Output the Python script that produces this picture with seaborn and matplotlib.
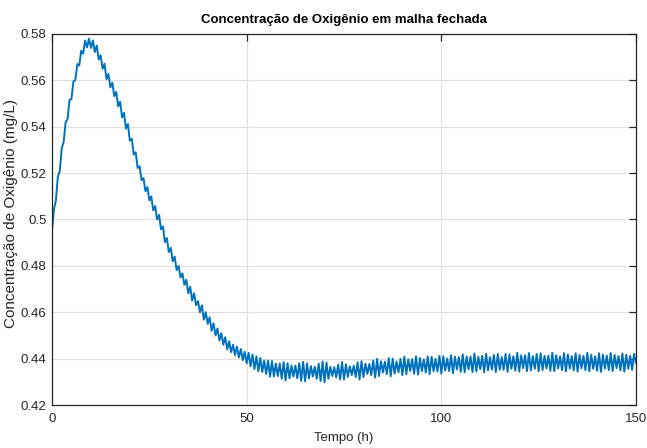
import numpy as np
import pandas as pd
import matplotlib
matplotlib.use("Agg")
import matplotlib.pyplot as plt
from matplotlib.ticker import FuncFormatter
import seaborn as sns

time_step_h = 0.5
oxygen_0_25 = [
    0.4950, 0.5045, 0.5082, 0.5185, 0.5210, 0.5308, 0.5335, 0.5420, 0.5433, 0.5516,
    0.5520, 0.5595, 0.5602, 0.5670, 0.5664, 0.5728, 0.5715, 0.5772, 0.5742, 0.5780,
    0.5740, 0.5772, 0.5722, 0.5750, 0.5690, 0.5708, 0.5650, 0.5672, 0.5605, 0.5628,
    0.5570, 0.5590, 0.5532, 0.5550, 0.5488, 0.5508, 0.5440, 0.5460, 0.5392, 0.5412,
    0.5340, 0.5348, 0.5280, 0.5290, 0.5222, 0.5230, 0.5170, 0.5178, 0.5122, 0.5140,
]
oxygen_25_50 = [
    0.5082, 0.5100, 0.5040, 0.5058, 0.5000, 0.5020, 0.4958, 0.4970, 0.4902, 0.4920,
    0.4860, 0.4878, 0.4820, 0.4840, 0.4782, 0.4800, 0.4750, 0.4768, 0.4718, 0.4740,
    0.4682, 0.4710, 0.4650, 0.4682, 0.4630, 0.4648, 0.4600, 0.4630, 0.4568, 0.4600,
    0.4550, 0.4578, 0.4520, 0.4552, 0.4500, 0.4530, 0.4478, 0.4510, 0.4460, 0.4492,
    0.4440, 0.4475, 0.4428, 0.4460, 0.4415, 0.4452, 0.4405, 0.4442, 0.4393, 0.4430,
]
oxygen_50_75 = [
    0.4380, 0.4425, 0.4367, 0.4418, 0.4355, 0.4410, 0.4345, 0.4403, 0.4342, 0.4392,
    0.4334, 0.4392, 0.4322, 0.4390, 0.4323, 0.4379, 0.4325, 0.4379, 0.4313, 0.4385,
    0.4306, 0.4380, 0.4315, 0.4370, 0.4323, 0.4370, 0.4315, 0.4380, 0.4304, 0.4386,
    0.4302, 0.4379, 0.4314, 0.4368, 0.4323, 0.4365, 0.4313, 0.4378, 0.4303, 0.4388,
    0.4298, 0.4383, 0.4313, 0.4365, 0.4325, 0.4363, 0.4319, 0.4374, 0.4310, 0.4385,
]
oxygen_75_100 = [
    0.4310, 0.4376, 0.4321, 0.4367, 0.4329, 0.4370, 0.4320, 0.4384, 0.4310, 0.4389,
    0.4320, 0.4378, 0.4334, 0.4377, 0.4328, 0.4392, 0.4318, 0.4399, 0.4325, 0.4389,
    0.4340, 0.4387, 0.4333, 0.4402, 0.4324, 0.4400, 0.4335, 0.4388, 0.4341, 0.4399,
    0.4329, 0.4408, 0.4333, 0.4397, 0.4347, 0.4398, 0.4335, 0.4410, 0.4331, 0.4403,
    0.4346, 0.4397, 0.4340, 0.4410, 0.4333, 0.4408, 0.4345, 0.4399, 0.4344, 0.4412,
]
oxygen_100_125 = [
    0.4335, 0.4410, 0.4348, 0.4401, 0.4346, 0.4415, 0.4337, 0.4409, 0.4353, 0.4406,
    0.4343, 0.4418, 0.4341, 0.4409, 0.4354, 0.4409, 0.4342, 0.4422, 0.4345, 0.4408,
    0.4355, 0.4412, 0.4341, 0.4421, 0.4349, 0.4406, 0.4353, 0.4416, 0.4342, 0.4420,
    0.4352, 0.4407, 0.4352, 0.4420, 0.4343, 0.4418, 0.4356, 0.4410, 0.4348, 0.4425,
    0.4344, 0.4414, 0.4359, 0.4414, 0.4346, 0.4424, 0.4349, 0.4411, 0.4356, 0.4420,
]
oxygen_125_150 = [
    0.4345, 0.4423, 0.4350, 0.4412, 0.4358, 0.4413, 0.4347, 0.4425, 0.4346, 0.4415,
    0.4358, 0.4410, 0.4350, 0.4424, 0.4345, 0.4418, 0.4357, 0.4411, 0.4349, 0.4423,
    0.4344, 0.4416, 0.4358, 0.4412, 0.4350, 0.4425, 0.4345, 0.4417, 0.4356, 0.4410,
    0.4348, 0.4423, 0.4343, 0.4418, 0.4357, 0.4413, 0.4350, 0.4424, 0.4346, 0.4416,
    0.4359, 0.4411, 0.4349, 0.4422, 0.4344, 0.4417, 0.4356, 0.4412, 0.4351, 0.4421,
    0.4380,
]
x_ticks = [0, 50, 100, 150]
y_ticks = [0.42, 0.44, 0.46, 0.48, 0.50, 0.52, 0.54, 0.56, 0.58]

title_text = "Concentração de Oxigênio em malha fechada"
x_label = "Tempo (h)"
y_label = "Concentração de Oxigênio (mg/L)"

oxygen = (oxygen_0_25 + oxygen_25_50 + oxygen_50_75 + oxygen_75_100
          + oxygen_100_125 + oxygen_125_150)
time_h = np.arange(len(oxygen)) * time_step_h
df = pd.DataFrame({"Tempo": time_h, "O2": oxygen})

# ---- style ----
sns.set_theme(style="white")
fam = ["Liberation Sans", "DejaVu Sans"]
plt.rcParams["font.family"] = fam
ink = "#262626"

fig = plt.figure(figsize=(6.47, 4.48), dpi=100)
ax = fig.add_axes([52 / 647, 1 - 405 / 448, (636 - 52) / 647, (405 - 34) / 448])

sns.lineplot(data=df, x="Tempo", y="O2", ax=ax, color="#0072BD",
             linewidth=1.4, estimator=None, sort=False)

ax.set_xlim(0, 150)
ax.set_ylim(0.42, 0.58)
ax.set_xticks(x_ticks)
ax.set_yticks(y_ticks)
ax.xaxis.set_major_formatter(FuncFormatter(lambda v, p: f"{v:g}"))
ax.yaxis.set_major_formatter(FuncFormatter(lambda v, p: f"{v:g}"))

ax.grid(True, color="#dfdfdf", linewidth=0.8)
ax.set_axisbelow(True)
for s in ax.spines.values():
    s.set_visible(True)
    s.set_color(ink)
    s.set_linewidth(0.9)

ax.tick_params(axis="both", which="major", direction="in", length=5, width=0.9,
               color=ink, labelcolor=ink, labelsize=9.5, top=True, right=True,
               pad=4)
ax.tick_params(axis="x", pad=6)

ax.set_title(title_text, fontsize=9.5, fontweight="bold", color="black", pad=8)
ax.set_xlabel(x_label, fontsize=9.5, color=ink, labelpad=5)
ax.set_ylabel(y_label, fontsize=11, color=ink)
ax.yaxis.set_label_coords(-0.058, 0.515)

fig.savefig("out.png", dpi=100)
